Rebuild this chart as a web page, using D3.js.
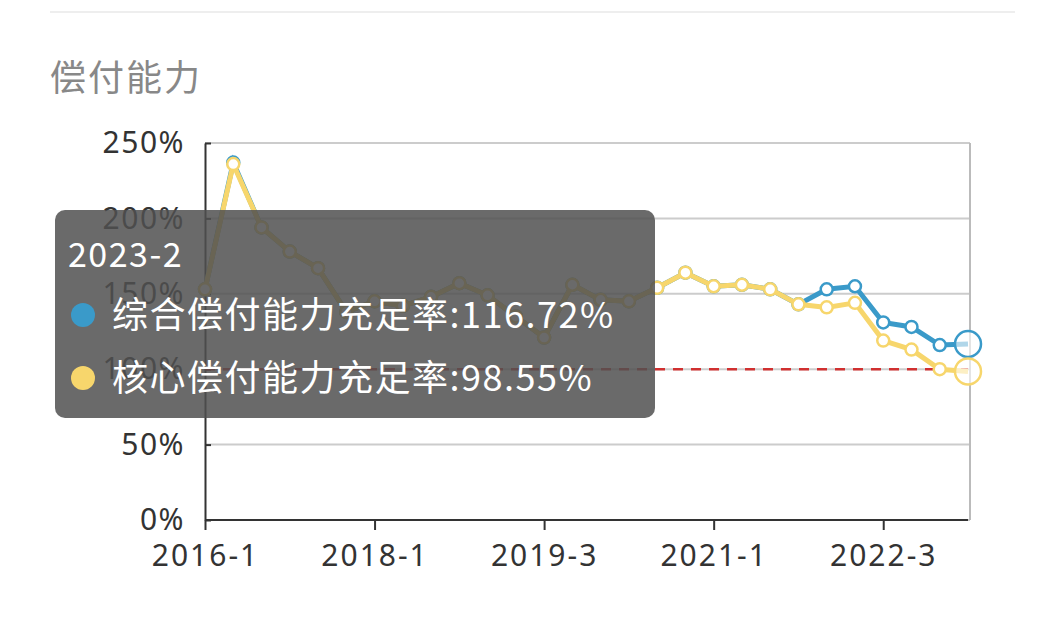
<!DOCTYPE html><html><head><meta charset="utf-8"><script src="https://cdn.jsdelivr.net/npm/d3@7"></script>
<style>body{margin:0;background:#fff;font-family:"Noto Sans CJK SC","Noto Sans",sans-serif}</style></head><body><svg id="c" width="1061" height="636"></svg>
<script>
const categories=["2016-1","2016-2","2016-3","2016-4","2017-1","2017-3","2018-1","2018-2","2018-3","2018-4","2019-1","2019-2","2019-3","2019-4","2020-1","2020-2","2020-3","2020-4","2021-1","2021-2","2021-3","2021-4","2022-1","2022-2","2022-3","2022-4","2023-1","2023-2"];
const composite=[153,237,194,178,167,138,145,142,148,157,149,135,121,156,146,145,154,164,155,156,153,143,153,155,131,128,116,116.72];
const core=[153,236,194,178,167,138,145,142,148,157,149,135,121,156,146,145,154,164,155,156,153,143,141,144,119,113,100,98.55];
const yTicks=[0,50,100,150,200,250];
const tickLabels=["2016-1","2018-1","2019-3","2021-1","2022-3"];
const svg=d3.select("#c");
svg.append("line").attr("x1",50).attr("x2",1015).attr("y1",12).attr("y2",12).attr("stroke","#eee").attr("stroke-width",2);
svg.append("text").attr("x",50).attr("y",91).attr("font-size",36).attr("letter-spacing",2).attr("fill","#888").text("偿付能力");
const x=d3.scalePoint().domain(categories).range([205,968]);
const y=d3.scaleLinear().domain([0,250]).range([520,143]);
const g=svg.append("g");
yTicks.forEach(t=>{g.append("line").attr("x1",205).attr("x2",970).attr("y1",y(t)).attr("y2",y(t)).attr("stroke","#ccc").attr("stroke-width",2);});
g.append("line").attr("x1",970).attr("x2",970).attr("y1",143).attr("y2",520).attr("stroke","#bbb").attr("stroke-width",2);
const ya=g.append("g").attr("transform","translate(205,0)").call(d3.axisLeft(y).tickValues(yTicks).tickFormat(d=>d+"%").tickSize(10).tickSizeOuter(0));
ya.select(".domain").attr("stroke","#333").attr("stroke-width",2);
ya.selectAll("line").attr("stroke","#333").attr("stroke-width",2).attr("x2",6);
ya.selectAll("text").attr("font-size",30).attr("letter-spacing",1.5).attr("fill","#333").attr("x",-20).attr("font-family","Noto Sans, sans-serif");
const xa=g.append("g").attr("transform","translate(0,520)").call(d3.axisBottom(x).tickValues(tickLabels).tickSize(10).tickSizeOuter(0));
xa.select(".domain").attr("stroke","#333").attr("stroke-width",2).attr("d","M205,0H968");
xa.selectAll("line").attr("stroke","#333").attr("stroke-width",2);
xa.selectAll("text").attr("font-size",30).attr("letter-spacing",2).attr("fill","#333").attr("dy","1.1em").attr("font-family","Noto Sans, sans-serif");
g.append("line").attr("x1",205).attr("x2",968).attr("y1",y(100)).attr("y2",y(100)).attr("stroke","#d03030").attr("stroke-width",2.5).attr("stroke-dasharray","10,8");
function series(data,col){
 const line=d3.line().x((d,i)=>x(categories[i])).y(d=>y(d));
 g.append("path").datum(data).attr("d",line).attr("fill","none").attr("stroke",col).attr("stroke-width",5);
 g.selectAll(null).data(data.slice(0,-1)).enter().append("circle").attr("cx",(d,i)=>x(categories[i])).attr("cy",d=>y(d)).attr("r",6).attr("fill","#fff").attr("stroke",col).attr("stroke-width",2.5);
 const n=data.length-1;
 g.append("circle").attr("cx",x(categories[n])).attr("cy",y(data[n])).attr("r",13).attr("fill","#fff").attr("fill-opacity",0.6).attr("stroke",col).attr("stroke-width",2.5);
}
series(composite,"#3a9ac9");
series(core,"#f7d66c");
const tt=svg.append("g");
tt.append("rect").attr("x",55).attr("y",210).attr("width",600).attr("height",208).attr("rx",10).attr("fill","rgba(80,80,80,0.85)");
tt.append("text").attr("x",68).attr("y",267).attr("font-size",34).attr("letter-spacing",1.5).attr("fill","#fff").text(categories[27]);
[[composite,"#3a9ac9","综合偿付能力充足率:"],[core,"#f7d66c","核心偿付能力充足率:"]].forEach(([d,c,l],k)=>{
 const yy=315+k*63;
 tt.append("circle").attr("cx",83).attr("cy",yy).attr("r",12).attr("fill",c);
 tt.append("text").attr("x",112).attr("y",yy+13).attr("font-size",36).attr("letter-spacing",1.5).attr("fill","#fff").text(l+d[27].toFixed(2)+"%");
});
</script></body></html>
